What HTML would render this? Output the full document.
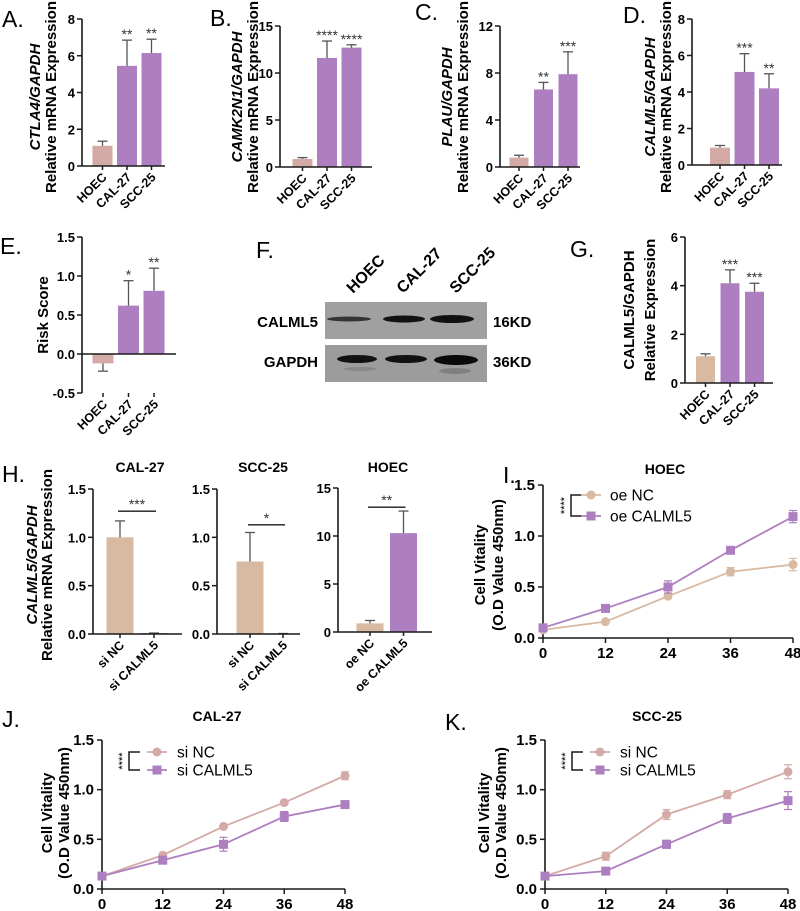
<!DOCTYPE html>
<html><head><meta charset="utf-8"><style>
html,body{margin:0;padding:0;background:#fff;}
svg{display:block;font-family:"Liberation Sans",Arial,sans-serif;}
</style></head><body>
<svg id="fig" width="800" height="911" viewBox="0 0 800 911" xmlns="http://www.w3.org/2000/svg"></svg>
<script>
// ---------- data ----------
const barCats = ["HOEC","CAL-27","SCC-25"];
const aVals = [1.1,5.45,6.15], aErr = [1.35,6.85,6.9], aStars = ["","**","**"];
const bVals = [0.85,11.6,12.7], bErr = [1.0,13.4,13.0], bStars = ["","****","****"];
const cVals = [0.8,6.6,7.9], cErr = [1.0,7.2,9.8], cStars = ["","**","***"];
const dVals = [0.95,5.1,4.2], dErr = [1.07,6.1,5.0], dStars = ["","***","**"];
const eVals = [-0.12,0.62,0.81], eErr = [-0.22,0.94,1.1], eStars = ["","*","**"];
const gVals = [1.1,4.1,3.75], gErr = [1.2,4.65,4.1], gStars = ["","***","***"];
const h1Cats = ["si NC","si CALML5"], h1Vals = [1.0,0.01], h1Err = [1.17,0.01];
const h2Cats = ["si NC","si CALML5"], h2Vals = [0.75,0.005], h2Err = [1.05,0.005];
const h3Cats = ["oe NC","oe CALML5"], h3Vals = [0.9,10.3], h3Err = [1.2,12.6];
const hours = [0,12,24,36,48];
const iNC = [0.08,0.16,0.41,0.65,0.72], iNCe = [0.01,0.01,0.02,0.04,0.06];
const iOE = [0.1,0.29,0.5,0.86,1.19], iOEe = [0.01,0.02,0.06,0.02,0.06];
const jNC = [0.13,0.34,0.63,0.87,1.14], jNCe = [0.01,0.01,0.01,0.01,0.04];
const jSI = [0.13,0.29,0.45,0.73,0.85], jSIe = [0.01,0.01,0.07,0.05,0.02];
const kNC = [0.13,0.33,0.75,0.95,1.18], kNCe = [0.01,0.04,0.05,0.04,0.07];
const kSI = [0.13,0.18,0.45,0.71,0.89], kSIe = [0.01,0.01,0.04,0.05,0.09];
const lineTicks = [0,0.5,1.0,1.5], lineTickLabels = ["0.0","0.5","1.0","1.5"];

const PINK="#d4aaa6", PURP="#ae7fc0", TAN="#d8b9a1", AX="#1a1a1a", ERR="#555";
const svg=document.getElementById('fig');
const NS="http://www.w3.org/2000/svg";
function el(tag,attrs,parent){const e=document.createElementNS(NS,tag);for(const k in attrs)e.setAttribute(k,attrs[k]);(parent||svg).appendChild(e);return e;}
function txt(s,attrs,parent){const e=el('text',attrs,parent);e.textContent=s;return e;}
function lin(x1,y1,x2,y2,c,w,p){return el('line',{x1,y1,x2,y2,stroke:c,'stroke-width':w},p);}

function panelLabel(s,x,y){const t=txt(s,{x,y,'font-size':23});
}

function yTitle(lines,x,y,italicFirst,size,name){
 const g=el('g',{});
 lines.forEach((l,i)=>{const t=txt(l,{x:0,y:0,transform:`translate(${x[i]},${y}) rotate(-90)`,'text-anchor':'middle','font-size':size,'font-weight':'bold'},g);
  if(i===0&&italicFirst)t.setAttribute('font-style','italic');});
}

function barChart(o){
 const g=el('g',{});
 const ys=v=>o.y0-(v-o.ymin)/(o.ymax-o.ymin)*(o.y0-o.ytop);
 const xs=i=>o.x0+o.off+i*o.step;
 const base=ys(Math.max(0,o.ymin));
 o.vals.forEach((v,i)=>{
  const cx=xs(i),w=o.bw;
  const y=ys(v);
  const r=el('rect',{x:cx-w/2,y:Math.min(y,base),width:w,height:Math.abs(base-y),fill:o.colors[i]},g);
  
  
  const ye=ys(o.err[i]);
  lin(cx,y,cx,ye,ERR,1.3,g);lin(cx-5,ye,cx+5,ye,ERR,1.3,g);
  if(o.stars&&o.stars[i])txt(o.stars[i],{x:cx,y:ye-1,'text-anchor':'middle','font-size':14,fill:'#333'},g);
 });
 lin(o.x0,o.ytop,o.x0,o.y0,AX,1.6,g);
 lin(o.x0,base,o.xend,base,AX,1.6,g);
 o.ticks.forEach((t,i)=>{const y=ys(t);lin(o.x0-5,y,o.x0,y,AX,1.5,g);
  txt(o.tickLabels?o.tickLabels[i]:String(t),{x:o.x0-7,y:y+5,'text-anchor':'end','font-size':13,'font-weight':'bold'},g);});
 o.cats.forEach((c,i)=>{const cx=xs(i);lin(cx,o.y0,cx,o.y0+4,AX,1.5,g);
  txt(c,{x:0,y:0,transform:`translate(${cx+5},${o.y0+12}) rotate(-45)`,'text-anchor':'end','font-size':12.5,'font-weight':'bold'},g);});
 if(o.sig){const y=ys(o.sig.v);lin(xs(0)-2,y,xs(1)+2,y,AX,1.4,g);
  txt(o.sig.s,{x:(xs(0)+xs(1))/2,y:y-2,'text-anchor':'middle','font-size':14,fill:'#333'},g);}
 if(o.title)txt(o.title,{x:o.titleX,y:o.titleY,'text-anchor':'middle','font-size':14,'font-weight':'bold'},g);
}

function lineChart(o){
 const g=el('g',{});
 const xs=h=>o.x0+(h-0)/48*(o.x48-o.x0);
 const ys=v=>o.y0-v/1.5*(o.y0-o.ytop);
 lin(o.x0,o.ytop,o.x0,o.y0,AX,1.6,g);lin(o.x0,o.y0,o.x48,o.y0,AX,1.6,g);
 lineTicks.forEach((t,i)=>{const y=ys(t);lin(o.x0-5,y,o.x0,y,AX,1.5,g);
  txt(lineTickLabels[i],{x:o.x0-8,y:y+5,'text-anchor':'end','font-size':15,'font-weight':'bold'},g);});
 hours.forEach(h=>{const x=xs(h);lin(x,o.y0,x,o.y0+5,AX,1.5,g);
  txt(String(h),{x,y:o.y0+20,'text-anchor':'middle','font-size':15,'font-weight':'bold'},g);});
 o.series.forEach((s,si)=>{
  const sg=el('g',{},g);
  el('polyline',{points:s.vals.map((v,i)=>xs(hours[i])+','+ys(v)).join(' '),fill:'none',stroke:s.color,'stroke-width':1.8},sg);
  s.vals.forEach((v,i)=>{const x=xs(hours[i]),y=ys(v),e=s.err[i];
   lin(x,ys(v-e),x,ys(v+e),s.color,1.2,sg);lin(x-4,ys(v+e),x+4,ys(v+e),s.color,1.2,sg);lin(x-4,ys(v-e),x+4,ys(v-e),s.color,1.2,sg);
   if(s.shape==='c')el('circle',{cx:x,cy:y,r:4.5,fill:s.color},sg);else el('rect',{x:x-4.5,y:y-4.5,width:9,height:9,fill:s.color},sg);});
 });
 const lg=el('g',{},g);
 const L=o.leg;
 el('path',{d:`M${L.bx+11},${L.y1} H${L.bx} V${L.y2} H${L.bx+11}`,fill:'none',stroke:AX,'stroke-width':1.5},lg);
 txt('****',{x:0,y:0,transform:`translate(${L.bx-3},${(L.y1+L.y2)/2}) rotate(-90)`,'text-anchor':'middle','font-size':11},lg);
 o.series.forEach((s,si)=>{const y=si?L.y2:L.y1;
  lin(L.lx,y,L.lx+20,y,s.color,1.8,lg);
  if(s.shape==='c')el('circle',{cx:L.lx+10,cy:y,r:4.5,fill:s.color},lg);else el('rect',{x:L.lx+5.5,y:y-4.5,width:9,height:9,fill:s.color},lg);
  txt(s.label,{x:L.tx,y:y+5.5,'font-size':15.5},lg);});
 if(o.title)txt(o.title,{x:o.titleX,y:o.titleY,'text-anchor':'middle','font-size':14,'font-weight':'bold'},g);
}

// ---------- top row ----------
const c3=[PINK,PURP,PURP];
panelLabel('A.',2,27);
yTitle(['CTLA4/GAPDH','Relative mRNA Expression'],[40,56],97,true,15,'y-axis-title-a');
barChart({name:'chart-a',x0:82,y0:166,ytop:19,ymin:0,ymax:8,ticks:[0,2,4,6,8],off:20.5,step:24.5,bw:20,xend:165,cats:barCats,vals:aVals,err:aErr,stars:aStars,colors:c3});
panelLabel('B.',210,26);
yTitle(['CAMK2N1/GAPDH','Relative mRNA Expression'],[242,258],97,true,15,'y-axis-title-b');
barChart({name:'chart-b',x0:280,y0:167,ytop:26,ymin:0,ymax:15,ticks:[0,5,10,15],off:22.5,step:24.5,bw:20,xend:372,cats:barCats,vals:bVals,err:bErr,stars:bStars,colors:c3});
panelLabel('C.',415,20);
yTitle(['PLAU/GAPDH','Relative mRNA Expression'],[452,468],97,true,15,'y-axis-title-c');
barChart({name:'chart-c',x0:500,y0:167,ytop:26,ymin:0,ymax:12,ticks:[0,4,8,12],off:19,step:24.5,bw:19,xend:580,cats:barCats,vals:cVals,err:cErr,stars:cStars,colors:c3});
panelLabel('D.',623,23);
yTitle(['CALML5/GAPDH','Relative mRNA Expression'],[655,671],97,true,15,'y-axis-title-d');
barChart({name:'chart-d',x0:692,y0:165,ytop:19,ymin:0,ymax:8,ticks:[0,2,4,6,8],off:28,step:24.5,bw:20,xend:782,cats:barCats,vals:dVals,err:dErr,stars:dStars,colors:c3});

// ---------- middle row ----------
panelLabel('E.',0,254);
yTitle(['Risk Score'],[48],315,false,15,'y-axis-title-e');
barChart({name:'chart-e',x0:82,y0:393,ytop:237,ymin:-0.5,ymax:1.5,ticks:[-0.5,0,0.5,1.0,1.5],tickLabels:['-0.5','0.0','0.5','1.0','1.5'],off:21,step:25.5,bw:21,xend:176,cats:barCats,vals:eVals,err:eErr,stars:eStars,colors:c3});

(function(){
 const g=el('g',{});
 panelLabel('F.',256,258);
 [['HOEC',347],['CAL-27',397],['SCC-25',450]].forEach(([s,x])=>txt(s,{x:0,y:0,transform:`translate(${x+6},${294}) rotate(-45)`,'font-size':16,'font-weight':'bold'},g));
 el('rect',{x:325,y:302,width:162,height:37,fill:'#a0a0a0'},g);
 el('rect',{x:325,y:345,width:162,height:37,fill:'#9c9c9c'},g);
 el('ellipse',{cx:349,cy:319,rx:22,ry:2.5,fill:'#222',opacity:0.85},g);
 el('ellipse',{cx:404,cy:319,rx:21,ry:3.5,fill:'#111'},g);
 el('ellipse',{cx:452,cy:319,rx:22,ry:4,fill:'#111'},g);
 el('ellipse',{cx:357,cy:359,rx:20,ry:4,fill:'#111'},g);
 el('ellipse',{cx:406,cy:359,rx:21,ry:4,fill:'#111'},g);
 el('ellipse',{cx:456,cy:360,rx:22,ry:5,fill:'#0a0a0a'},g);
 el('ellipse',{cx:360,cy:369,rx:16,ry:2,fill:'#888'},g);
 el('ellipse',{cx:455,cy:371,rx:16,ry:3,fill:'#808080'},g);
 txt('CALML5',{x:318,y:327,'text-anchor':'end','font-size':15,'font-weight':'bold'},g);
 txt('GAPDH',{x:318,y:367,'text-anchor':'end','font-size':15,'font-weight':'bold'},g);
 txt('16KD',{x:493,y:327,'font-size':15,'font-weight':'bold'},g);
 txt('36KD',{x:493,y:367,'font-size':15,'font-weight':'bold'},g);
})();

panelLabel('G.',570,257);
yTitle(['CALML5/GAPDH','Relative Expression'],[634,655],310,false,15,'y-axis-title-g');
barChart({name:'chart-g',x0:685,y0:383,ytop:237,ymin:0,ymax:6,ticks:[0,2,4,6],off:20.5,step:24.5,bw:19,xend:773,cats:barCats,vals:gVals,err:gErr,stars:gStars,colors:[TAN,PURP,PURP]});

// ---------- H ----------
panelLabel('H.',2,482);
yTitle(['CALML5/GAPDH','Relative mRNA Expression'],[37,52],565,true,15,'y-axis-title-h');
barChart({name:'chart-h-cal27',x0:93,y0:634,ytop:489,ymin:0,ymax:1.5,ticks:[0,0.5,1.0,1.5],tickLabels:['0.0','0.5','1.0','1.5'],off:27,step:34,bw:27,xend:182,cats:h1Cats,vals:h1Vals,err:h1Err,colors:[TAN,PURP],sig:{v:1.27,s:'***'},title:'CAL-27',titleX:140,titleY:472});
barChart({name:'chart-h-scc25',x0:217,y0:634,ytop:489,ymin:0,ymax:1.5,ticks:[0,0.5,1.0,1.5],tickLabels:['0.0','0.5','1.0','1.5'],off:33,step:33,bw:27,xend:300,cats:h2Cats,vals:h2Vals,err:h2Err,colors:[TAN,PURP],sig:{v:1.13,s:'*'},title:'SCC-25',titleX:263,titleY:472});
barChart({name:'chart-h-hoec',x0:338,y0:632,ytop:488,ymin:0,ymax:15,ticks:[0,5,10,15],off:32,step:33.5,bw:27,xend:432,cats:h3Cats,vals:h3Vals,err:h3Err,colors:[TAN,PURP],sig:{v:13.0,s:'**'},title:'HOEC',titleX:388,titleY:472});

// ---------- I, J, K ----------
panelLabel('I.',503,483);
yTitle(['Cell Vitality','(O.D Value 450nm)'],[485,503],565,false,15,'y-axis-title-i');
lineChart({name:'chart-i',x0:543,x48:793,y0:638,ytop:485,title:'HOEC',titleX:665,titleY:474,
 series:[{label:'oe NC',vals:iNC,err:iNCe,color:TAN,shape:'c'},{label:'oe CALML5',vals:iOE,err:iOEe,color:PURP,shape:'s'}],
 leg:{bx:571,y1:495,y2:516,lx:581,tx:610}});

panelLabel('J.',2,727);
yTitle(['Cell Vitality','(O.D Value 450nm)'],[52,69],813,false,15,'y-axis-title-j');
lineChart({name:'chart-j',x0:102,x48:345,y0:889,ytop:740,title:'CAL-27',titleX:217,titleY:721,
 series:[{label:'si NC',vals:jNC,err:jNCe,color:PINK,shape:'c'},{label:'si CALML5',vals:jSI,err:jSIe,color:PURP,shape:'s'}],
 leg:{bx:129,y1:752,y2:770,lx:147,tx:177}});

panelLabel('K.',445,730);
yTitle(['Cell Vitality','(O.D Value 450nm)'],[489,506],813,false,15,'y-axis-title-k');
lineChart({name:'chart-k',x0:545,x48:788,y0:889,ytop:740,title:'SCC-25',titleX:657,titleY:721,
 series:[{label:'si NC',vals:kNC,err:kNCe,color:PINK,shape:'c'},{label:'si CALML5',vals:kSI,err:kSIe,color:PURP,shape:'s'}],
 leg:{bx:572,y1:752,y2:770,lx:590,tx:620}});
</script>
</body></html>
